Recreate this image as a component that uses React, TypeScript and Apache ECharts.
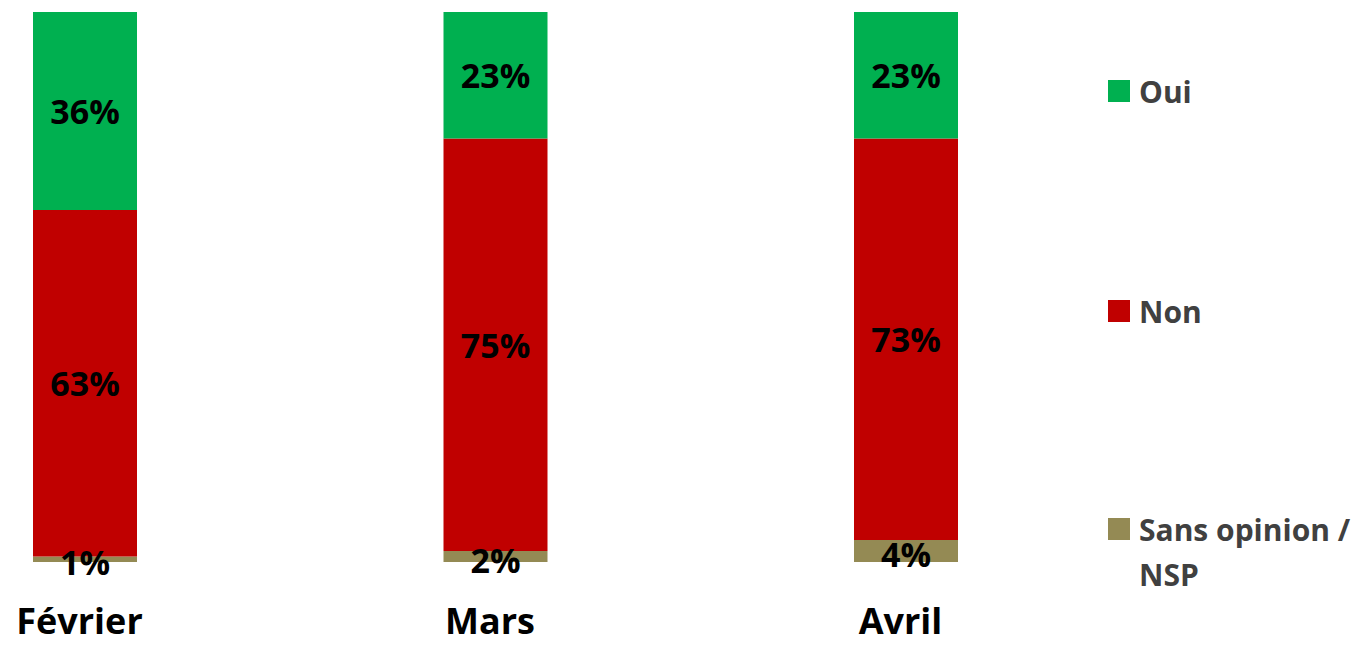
import React, { useEffect, useRef } from "react";
import * as echarts from "echarts";

const categories = ["Février", "Mars", "Avril"];
const ouiValues = [36, 23, 23];
const nonValues = [63, 75, 73];
const nspValues = [1, 2, 4];
const seriesNames = ["Sans opinion / NSP", "Non", "Oui"];

const FONT = "'Open Sans', Lato, sans-serif";

export default function App() {
  const ref = useRef<HTMLDivElement>(null);
  useEffect(() => {
    if (!ref.current) return;
    const chart = echarts.init(ref.current, null, { renderer: "svg" });
    const label = {
      show: true,
      position: "inside" as const,
      formatter: "{c}%",
      color: "#000",
      fontSize: 34,
      fontWeight: "bold" as const,
      fontFamily: FONT,
    };
    const legendBase = {
      orient: "vertical" as const,
      left: 1103,
      padding: 5,
      itemWidth: 22,
      itemHeight: 22,
      icon: "rect",
      textStyle: {
        color: "#404040",
        fontSize: 30,
        fontWeight: "bold" as const,
        fontFamily: FONT,
        lineHeight: 22,
        padding: [0, 0, 0, 4],
      },
    };
    chart.setOption({
      animation: false,
      grid: { left: 85, right: 447, top: 12, bottom: 83 },
      xAxis: {
        type: "category",
        data: categories,
        boundaryGap: false,
        axisLine: { show: false },
        axisTick: { show: false },
        axisLabel: {
          color: "#000",
          fontSize: 36,
          fontWeight: "bold",
          fontFamily: FONT,
          lineHeight: 38,
          margin: 39,
          padding: [0, 11, 0, 0],
        },
      },
      yAxis: { type: "value", min: 0, max: 100, show: false },
      legend: [
        { ...legendBase, top: 71, data: [seriesNames[2]] },
        { ...legendBase, top: 291, data: [seriesNames[1]] },
        {
          ...legendBase,
          top: 509,
          data: [seriesNames[0]],
          formatter: () => "Sans opinion /",
        },
      ],
      graphic: [
        {
          type: "text",
          x: 1139,
          y: 574,
          style: {
            text: "NSP",
            fill: "#404040",
            fontSize: 30,
            fontWeight: "bold",
            fontFamily: FONT,
            verticalAlign: "middle",
          },
        },
      ],
      series: [
        {
          name: seriesNames[0],
          type: "bar",
          stack: "s",
          barWidth: 104,
          data: nspValues,
          itemStyle: { color: "#948A54" },
          label: { ...label, offset: [0, 3] },
        },
        {
          name: seriesNames[1],
          type: "bar",
          stack: "s",
          barWidth: 104,
          data: nonValues,
          itemStyle: { color: "#C00000" },
          label,
        },
        {
          name: seriesNames[2],
          type: "bar",
          stack: "s",
          barWidth: 104,
          data: ouiValues,
          itemStyle: { color: "#00B050" },
          label,
        },
      ],
    });
    return () => chart.dispose();
  }, []);
  return (
    <div
      ref={ref}
      style={{ position: "fixed", left: 0, top: 0, width: 1353, height: 645, background: "#fff" }}
    />
  );
}
